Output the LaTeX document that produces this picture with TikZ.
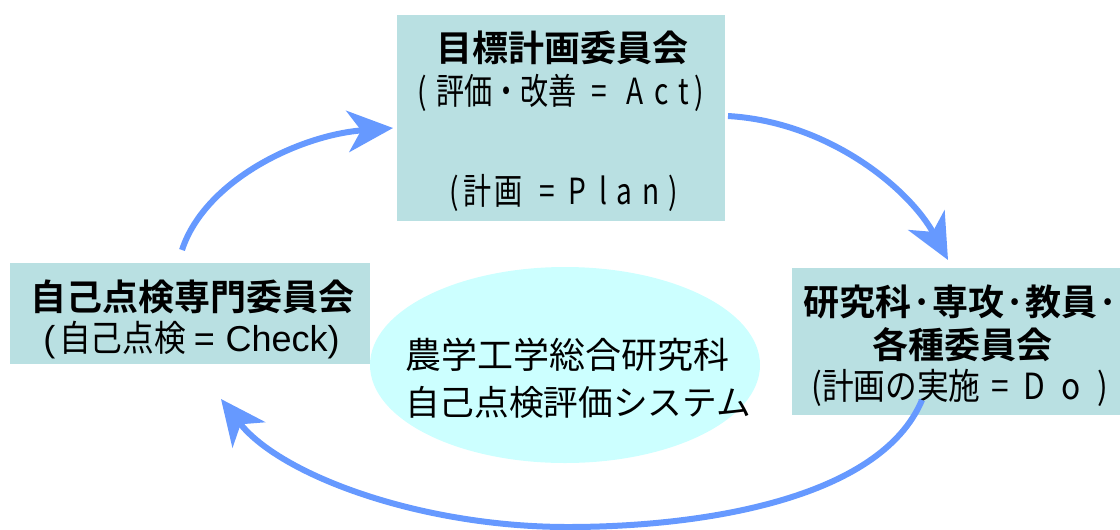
\documentclass[tikz,border=0pt]{standalone}
\usepackage{fontspec}
\usetikzlibrary{arrows.meta,shapes.geometric}
\newfontfamily\jp{Noto Sans CJK JP}
\newfontfamily\jpbold{Noto Sans CJK JP Bold}
\newfontfamily\jpcond[FakeStretch=0.78]{Noto Sans CJK JP}
\newfontfamily\jpmid[FakeStretch=0.88]{Noto Sans CJK JP}
\newfontfamily\arialfont{Liberation Sans}
\definecolor{boxfill}{HTML}{B9E0E2}
\definecolor{ellfill}{HTML}{CCFFFF}
\definecolor{arrowc}{HTML}{6699FF}
\begin{document}
\begin{tikzpicture}[x=0.75pt,y=0.75pt,
  panel/.style={rectangle,fill=boxfill,draw=none,inner sep=0},
  titletext/.style={font=\jpbold\fontsize{27}{30}\selectfont,inner sep=0},
  subtext/.style={font=\jpcond\fontsize{27}{30}\selectfont,inner sep=0},
  midtext/.style={font=\jpmid\fontsize{27}{30}\selectfont,inner sep=0},
  elltext/.style={font=\jp\fontsize{#1}{30}\selectfont,inner sep=0,anchor=west},
  cycle arrow/.style={draw=arrowc,line width=4.5pt,
    -{Stealth[length=34pt,width=31pt,inset=10pt]}}]
\useasboundingbox (0,0) rectangle (1120,-529);
% centre ellipse
\node[ellipse,fill=ellfill,draw=none,minimum width=292.5pt,minimum height=147pt,inner sep=0] (sys) at (565,-365) {};
\node[elltext=27] (sys1) at (405,-355) {農学工学総合研究科};
\node[elltext=26] (sys2) at (405,-402) {自己点検評価システム};
% boxes
\node[panel,minimum width=246pt,minimum height=154.5pt] (act) at (561,-118) {};
\node[panel,minimum width=270pt,minimum height=75.75pt] (check) at (190,-313.5) {};
\node[panel,minimum width=246pt,minimum height=110.25pt] (do) at (956,-341.5) {};
% texts
\node[titletext] (actT) at (562,-48) {目標計画委員会};
\node[subtext] (actS) at (560.5,-93) {(\hspace{7pt}評価・改善\hspace{11pt}=\hspace{15pt}A\hspace{8pt}c\hspace{7pt}t\hspace{4pt})};
\node[subtext] (planS) at (564,-193) {(\hspace{3pt}計\hspace{2pt}画\hspace{13pt}=\hspace{10pt}P\hspace{10pt}l\hspace{7pt}a\hspace{7pt}n\hspace{7pt})};
\node[titletext] (checkT) at (192,-297) {自己点検専門委員会};
\node[midtext] (checkS) at (191.5,-340) {{\arialfont\fontsize{27}{30}\selectfont(}\hspace{3pt}自己点検\hspace{6pt}{\arialfont\fontsize{27}{30}\selectfont=\hspace{8pt}Check)}};
\node[titletext] (doT1) at (961,-302) {研究科·専攻·教員·};
\node[titletext] (doT2) at (962,-345) {各種委員会};
\node[midtext] (doS) at (960,-388) {(計画の実施\hspace{8pt}=\hspace{11pt}D\hspace{12pt}o\hspace{13pt})};
% arrows
\coordinate (a1s) at (182,-250);
\coordinate (a1e) at (393,-128);
\coordinate (a2s) at (728,-116);
\coordinate (a2e) at (948,-260);
\coordinate (a3s) at (922,-400);
\coordinate (a3m) at (568,-527);
\coordinate (a3e) at (221,-399);
\draw[cycle arrow] (a1s) .. controls (205,-180) and (300,-135) .. (a1e);
\draw[cycle arrow] (a2s) .. controls (830,-122) and (910,-190) .. (a2e);
\draw[cycle arrow] (a3s) .. controls (880,-500) and (700,-527) .. (a3m)
  .. controls (420,-527) and (280,-475) .. (a3e);
\end{tikzpicture}
\end{document}
